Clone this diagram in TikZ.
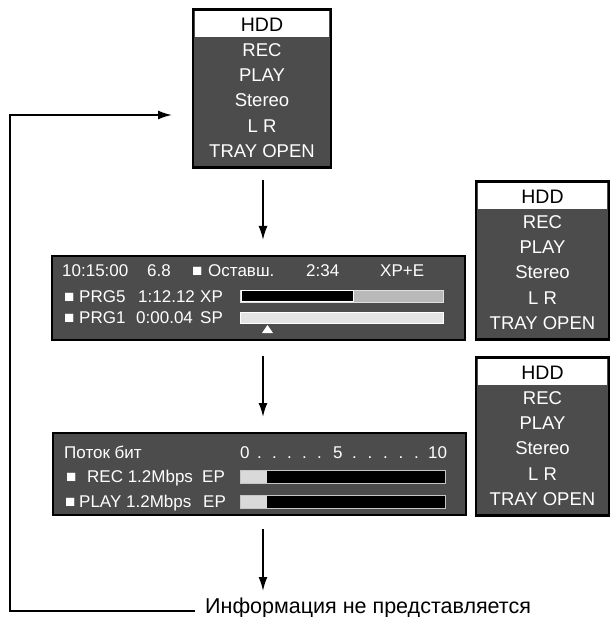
\documentclass[tikz,border=0pt]{standalone}
\usepackage{fontspec}
\setmainfont{Liberation Sans}
\usetikzlibrary{arrows.meta}
\definecolor{panelgray}{RGB}{76,76,76}
\tikzset{
  menubox/.style={draw=black, line width=2.6pt, fill=panelgray, inner sep=0pt},
  infobox/.style={draw=black, line width=2pt, fill=panelgray, inner sep=0pt},
  mtxt/.style={text=white, font=\fontsize{18.5}{20}\selectfont, inner sep=0pt},
  hddtxt/.style={text=black, font=\fontsize{19.5}{21}\selectfont, inner sep=0pt},
  ptxt/.style={text=white, font=\fontsize{17}{19}\selectfont, inner sep=0pt, anchor=base west},
  arr/.style={line width=1.8pt, -{Latex[length=14pt,width=9pt]}},
}
\newcommand{\mymenu}[4]{%
  \node[menubox, minimum width=#4pt, minimum height=158pt, anchor=north] (#1) at (#2,#3) {};
  \fill[white] ([shift={(3pt,-3pt)}]#1.north west) rectangle ([shift={(-3pt,-29pt)}]#1.north east);
  \node[hddtxt] (#1-hdd) at (#2,#3+16.5) {HDD};
  \node[mtxt] (#1-rec) at (#2,#3+41.8) {REC};
  \node[mtxt] (#1-play) at (#2,#3+67.1) {PLAY};
  \node[mtxt] (#1-st) at (#2,#3+92.4) {Stereo};
  \node[mtxt] (#1-lr) at (#2,#3+117.7) {L R};
  \node[mtxt] (#1-tray) at (#2,#3+143) {TRAY OPEN};
}
\begin{document}
\begin{tikzpicture}[x=1pt,y=-1pt]
\useasboundingbox (0,0) rectangle (612,617);

% menu panels
\mymenu{m0}{262}{8}{138}
\mymenu{m1}{542.5}{180}{133}
\mymenu{m2}{542.5}{356}{133}

% info panel 1
\node[infobox, minimum width=413pt, minimum height=84pt, anchor=north west] (p1) at (51,255) {};
\node[ptxt] (p1a) at (62,276) {10:15:00};
\node[ptxt] (p1b) at (147,276) {6.8};
\node[ptxt] (p1c) at (192,276) {■};
\node[ptxt] (p1d) at (208,276) {Оставш.};
\node[ptxt] (p1e) at (306,276) {2:34};
\node[ptxt] (p1f) at (380,276) {XP+E};
\node[ptxt] (p1g) at (64,302) {■};
\node[ptxt] (p1h) at (79,302) {PRG5};
\node[ptxt] (p1i) at (138,302) {1:12.12};
\node[ptxt] (p1j) at (200,302) {XP};
\node[ptxt] (p1k) at (64,323.5) {■};
\node[ptxt] (p1l) at (79,323.5) {PRG1};
\node[ptxt] (p1m) at (136,323.5) {0:00.04};
\node[ptxt] (p1n) at (200,323.5) {SP};
% bars panel 1
\filldraw[fill=gray!55, draw=gray!25, line width=1pt] (240,290) rectangle (443,302);
\filldraw[fill=black, draw=white, line width=1pt] (241,290.5) rectangle (353,301.5);
\filldraw[fill=gray!22, draw=white, line width=1pt] (240,312) rectangle (443,323);
\fill[white] (262,333) -- (267.5,325) -- (273,333) -- cycle;

% info panel 2
\node[infobox, minimum width=413pt, minimum height=82pt, anchor=north west] (p2) at (52,432) {};
\node[ptxt] (p2a) at (64,458.5) {Поток бит};
\node[ptxt] (p2b) at (240,458.5) {0};
\foreach \dx in {257,272,287,302,317,352,367.5,383,398.5,414}
  \node[ptxt] at (\dx,458.5) {.};
\node[ptxt] (p2c) at (333,458.5) {5};
\node[ptxt] (p2d) at (428,458.5) {10};
\node[ptxt] (p2e) at (66,482.5) {■};
\node[ptxt] (p2f) at (87,482.5) {REC 1.2Mbps};
\node[ptxt] (p2g) at (202,482.5) {EP};
\node[ptxt] (p2h) at (65,507.5) {■};
\node[ptxt] (p2i) at (79,507.5) {PLAY 1.2Mbps};
\node[ptxt] (p2j) at (203,507.5) {EP};
\filldraw[fill=black, draw=gray!45, line width=0.8pt] (240,470) rectangle (445,483);
\fill[gray!30] (240.5,470.5) rectangle (267,482.5);
\filldraw[fill=black, draw=gray!45, line width=0.8pt] (240,495) rectangle (445,508);
\fill[gray!30] (240.5,495.5) rectangle (267,507.5);

% bottom text
\node[anchor=base west, inner sep=0pt, font=\fontsize{21.5}{24}\selectfont] (info) at (205,613) {Информация не представляется};

% arrows
\coordinate (a1s) at (263,180);
\coordinate (a1e) at (263,240);
\coordinate (a2s) at (263,356);
\coordinate (a2e) at (263,417);
\coordinate (a3s) at (263,529);
\coordinate (a3e) at (263,591);
\draw[arr] (a1s) -- (a1e);
\draw[arr] (a2s) -- (a2e);
\draw[arr] (a3s) -- (a3e);

% feedback loop
\coordinate (fbc) at (10,115);
\coordinate (fbend) at (172,115);
\draw[arr] ([shift={(-10pt,2pt)}]info.base west) -| (fbc) -- (fbend);
\end{tikzpicture}
\end{document}
